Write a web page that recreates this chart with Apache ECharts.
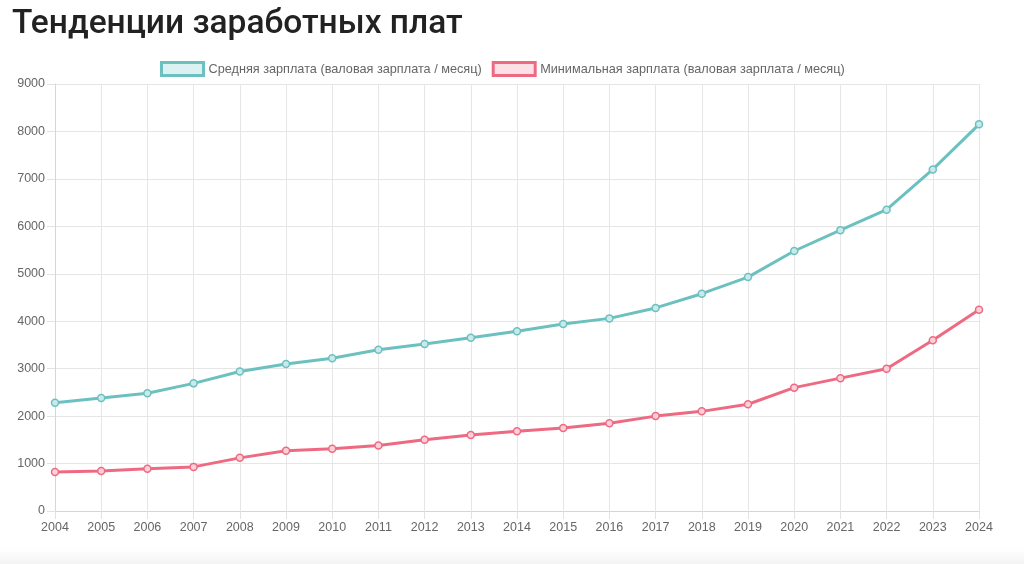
<!DOCTYPE html>
<html>
<head>
<meta charset="utf-8">
<script src="https://cdn.jsdelivr.net/npm/echarts@6/dist/echarts.min.js"></script>
<style>
html,body{margin:0;padding:0;background:#fff;}
#chart{width:1024px;height:564px;}
</style>
</head>
<body>
<div id="chart"></div>
<script>
const titleText = 'Тенденции заработных плат';
const years = ['2004','2005','2006','2007','2008','2009','2010','2011','2012','2013','2014','2015','2016','2017','2018','2019','2020','2021','2022','2023','2024'];
const avgName = 'Средняя зарплата (валовая зарплата / месяц)';
const minName = 'Минимальная зарплата (валовая зарплата / месяц)';
const avgWage = [2280,2380,2480,2690,2940,3100,3220,3400,3520,3650,3790,3940,4060,4280,4580,4930,5480,5920,6350,7200,8150];
const minWage = [820,845,890,930,1120,1270,1310,1380,1500,1600,1680,1750,1850,2000,2100,2250,2600,2800,3000,3600,4240];

const teal = '#6cc1c0';
const pink = '#ee6a82';
const font = '"Liberation Sans", Arial, sans-serif';

const chart = echarts.init(document.getElementById('chart'), null, {renderer:'canvas'});
function mkSeries(name, data, color, fill){
  return {
    name, type:'line', data,
    symbol:'circle', symbolSize:7,
    lineStyle:{color, width:3},
    itemStyle:{color:fill, borderColor:color, borderWidth:1.5},
    emphasis:{disabled:true},
    z: 3
  };
}
chart.setOption({
  animation:false,
  backgroundColor:'#fff',
  graphic:[{
    type:'rect', left:0, top:548, shape:{width:1024, height:16}, silent:true, z:-1,
    style:{fill:{type:'linear',x:0,y:0,x2:0,y2:1,colorStops:[{offset:0,color:'rgba(245,245,245,0)'},{offset:1,color:'#f3f3f3'}]}}
  }],
  title:{
    text:titleText, left:7, top:3,
    textStyle:{fontFamily:'Roboto, "Liberation Sans", sans-serif', fontSize:33.5, fontWeight:500, color:'#222'}
  },
  legend:{
    top:56, left:155, itemGap:10, itemWidth:42, itemHeight:13,
    icon:'rect',
    textStyle:{fontFamily:font, fontSize:12.7, color:'#666'},
    data:[
      {name:avgName, itemStyle:{color:'#dcf1f1', borderColor:teal, borderWidth:3}},
      {name:minName, itemStyle:{color:'#fde0e6', borderColor:pink, borderWidth:3}}
    ]
  },
  grid:{left:55, right:45, top:84, bottom:53, containLabel:false},
  xAxis:{
    type:'category', data:years, boundaryGap:false,
    axisLine:{show:true, lineStyle:{color:'#d6d6d6', width:1}},
    axisTick:{show:true, length:8, lineStyle:{color:'#e2e2e2'}},
    axisLabel:{fontFamily:font, fontSize:12.5, color:'#666', margin:10},
    splitLine:{show:true, lineStyle:{color:'#e6e6e6', width:1}}
  },
  yAxis:{
    type:'value', min:0, max:9000, interval:1000,
    axisLine:{show:true, lineStyle:{color:'#d6d6d6', width:1}},
    axisTick:{show:true, length:8, lineStyle:{color:'#e2e2e2'}},
    axisLabel:{fontFamily:font, fontSize:12.5, color:'#666', margin:10, formatter:v => String(v)},
    splitLine:{show:true, lineStyle:{color:'#e6e6e6', width:1}}
  },
  series:[
    mkSeries(avgName, avgWage, teal, '#c9eaea'),
    mkSeries(minName, minWage, pink, '#fbd0d9')
  ]
});
</script>
</body>
</html>
